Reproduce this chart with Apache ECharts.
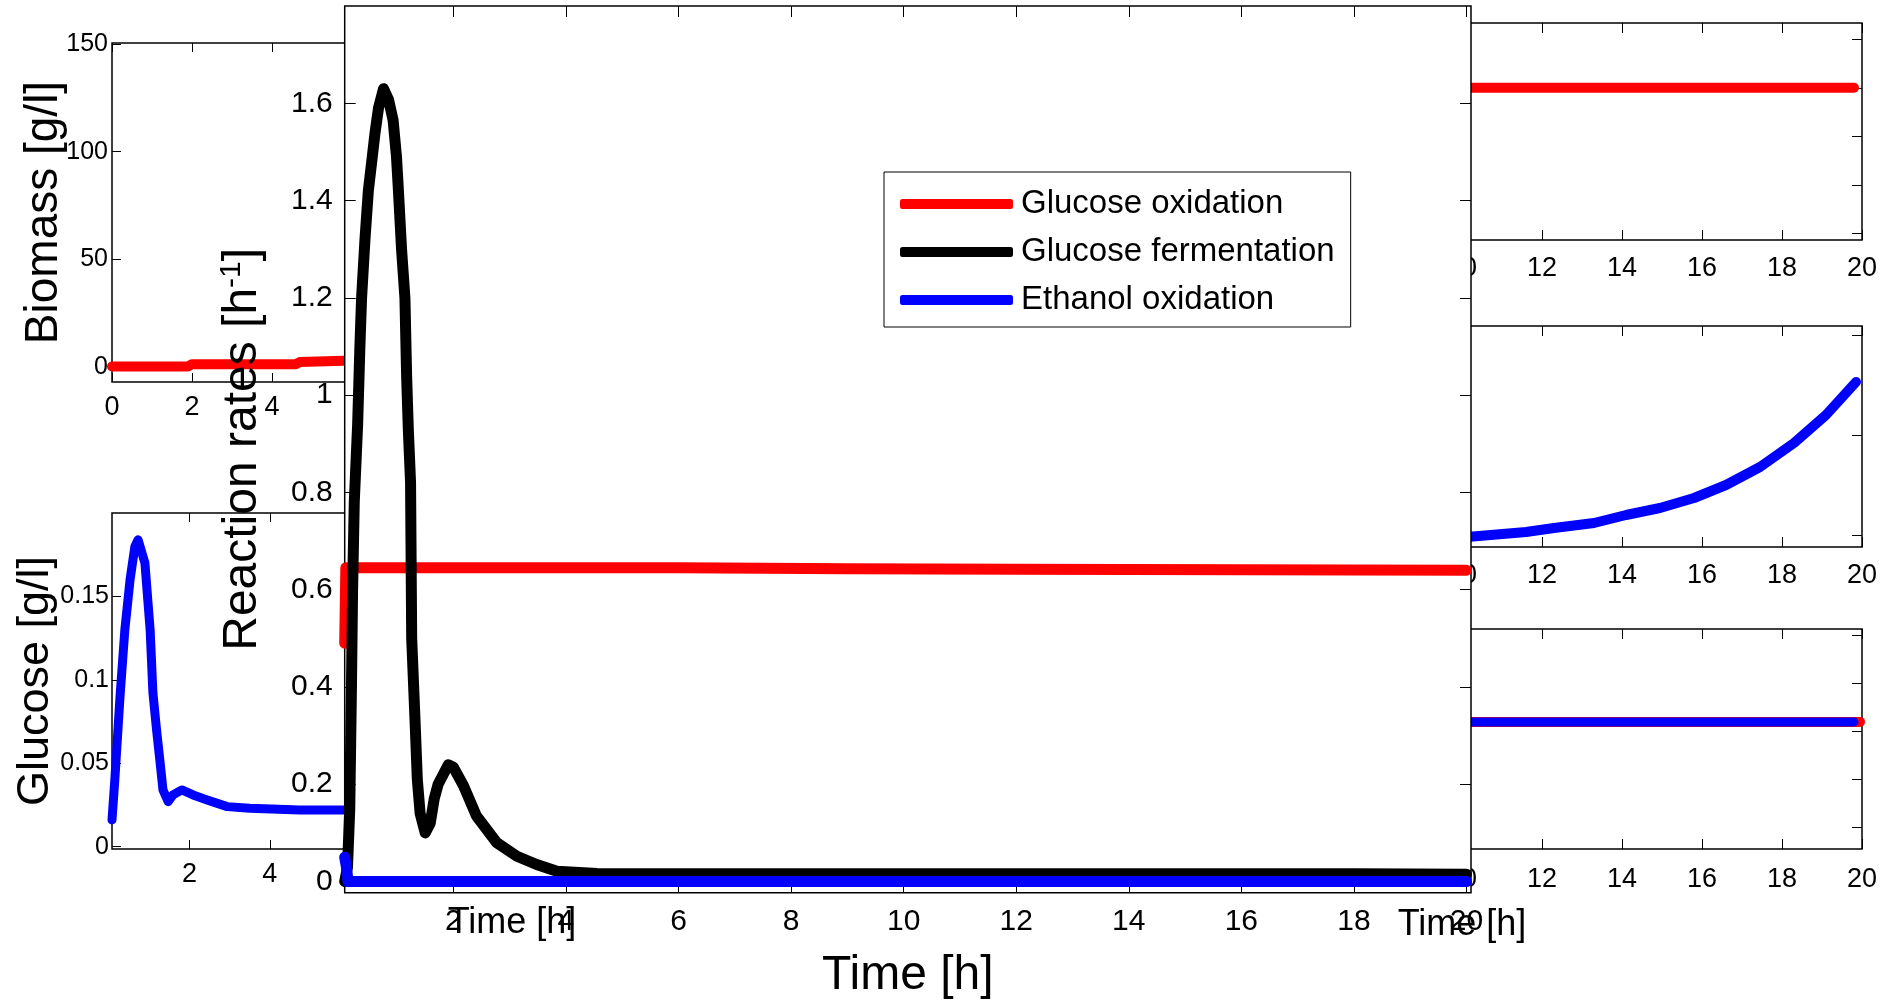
<!DOCTYPE html>
<html>
<head>
<meta charset="utf-8">
<title>Reaction rates</title>
<script src="https://cdn.jsdelivr.net/npm/echarts@6.0.0/dist/echarts.min.js"></script>
<style>
  html, body { margin: 0; padding: 0; background: #fff; }
  .chart__layer { position: absolute; left: 0; top: 0; width: 1899px; height: 1000px; }
</style>
</head>
<body>
  <div class="chart__layer" id="sub_show"></div>
  <div class="chart__layer" id="main_show"></div>
<script>
// values, time in h
var oxidationTime = [0.07, 0.09, 2, 6, 9, 12, 16, 20]
var oxidationRate = [0.49, 0.645, 0.645, 0.645, 0.643, 0.642, 0.641, 0.64]

var fermentationTime = [0.07, 0.12, 0.16, 0.19, 0.21, 0.24, 0.3, 0.34, 0.37, 0.43, 0.49, 0.55, 0.61, 0.67, 0.76, 0.85, 0.93, 0.99, 1.02, 1.08, 1.14, 1.17, 1.2, 1.24, 1.25, 1.26, 1.32, 1.36, 1.41, 1.5, 1.59, 1.66, 1.73, 1.91, 2.0, 2.18, 2.41, 2.77, 3.13, 3.48, 3.84, 4.55, 6, 8, 10, 12, 14, 16, 18, 20]
var fermentationRate = [0, 0.03, 0.15, 0.4, 0.6, 0.78, 0.94, 1.1, 1.2, 1.32, 1.42, 1.48, 1.54, 1.59, 1.63, 1.607, 1.565, 1.49, 1.43, 1.3, 1.2, 1.04, 0.93, 0.82, 0.66, 0.5, 0.33, 0.21, 0.14, 0.1, 0.12, 0.17, 0.2, 0.24, 0.235, 0.197, 0.135, 0.08, 0.052, 0.035, 0.021, 0.0165, 0.016, 0.016, 0.016, 0.016, 0.016, 0.016, 0.016, 0.015]

var ethanolTime = [0.07, 0.1, 0.13, 1, 5, 10, 15, 20]
var ethanolRate = [0.05, 0.03, 0, 0, 0, 0, 0, 0]

var biomassTime = [0, 1.9, 2, 4.6, 4.7, 6, 8, 10, 12, 14, 16, 18, 20]
var biomass = [0.2, 0.2, 1.3, 1.3, 2.3, 3, 5, 9, 16, 28, 47, 80, 135]

var glucoseTime = [0.07, 0.14, 0.27, 0.39, 0.52, 0.64, 0.72, 0.89, 1.02, 1.09, 1.18, 1.27, 1.34, 1.47, 1.59, 1.81, 2.09, 2.44, 2.94, 3.5, 4.75, 5.87, 8, 12, 16, 20]
var glucose = [0.016, 0.04, 0.09, 0.13, 0.16, 0.18, 0.184, 0.17, 0.13, 0.092, 0.07, 0.05, 0.034, 0.027, 0.031, 0.034, 0.031, 0.028, 0.024, 0.023, 0.022, 0.022, 0.022, 0.021, 0.021, 0.02]

// right column panels (their y labels sit under the big axes)
var upperRightTime = [0, 5, 10, 15, 19.8]
var upperRightLevel = [3, 3, 3, 3, 3]
var middleRightTime = [0, 4, 8, 10.2, 11.6, 12.3, 13.3, 14.1, 14.95, 15.8, 16.6, 17.45, 18.3, 19.1, 19.85]
var middleRightLevel = [-0.02, -0.02, -0.02, -0.017, 0.03, 0.07, 0.12, 0.2, 0.27, 0.37, 0.5, 0.68, 0.92, 1.2, 1.53]
var lowerRightRedTime = [0, 5, 10, 15, 19.95]
var lowerRightRed = [2.19, 2.19, 2.19, 2.19, 2.19]
var lowerRightBlueTime = [0, 5, 10, 15, 19.8]
var lowerRightBlue = [2.19, 2.19, 2.19, 2.19, 2.19]

// ticks
var hourTicks = [2, 4, 6, 8, 10, 12, 14, 16, 18, 20]
var hourTicksFromZero = [0, 2, 4, 6, 8, 10, 12, 14, 16, 18, 20]
var rateTicks = [0, 0.2, 0.4, 0.6, 0.8, 1, 1.2, 1.4, 1.6]
var biomassTicks = [0, 50, 100, 150]
var glucoseTicks = [0, 0.05, 0.1, 0.15]
var upperRightTicks = [0, 1, 2, 3, 4]
var middleRightTicks = [0, 1, 2]
var lowerRightTicks = [0, 1, 2, 3, 4]

var FONT = 'Liberation Sans, Arial, Helvetica, sans-serif'

function pairs (xs, ys) {
  return xs.map(function (x, i) { return [x, ys[i]] })
}

function boxGrid (left, top, width, height) {
  return {
    left: left,
    top: top,
    width: width,
    height: height,
    containLabel: false,
    outerBoundsMode: 'none',
    show: true,
    backgroundColor: '#fff',
    borderColor: '#000',
    borderWidth: 1.5
  }
}

// one MATLAB style box: labels bottom/left, inside ticks on all four sides
function boxAxes (c) {
  var tickStyle = { color: '#000', width: 1 }
  var xBase = {
    type: 'value',
    gridIndex: c.grid,
    min: c.xMin,
    max: c.xMax,
    axisLine: { show: false, onZero: false },
    splitLine: { show: false },
    axisTick: { inside: true, length: c.tick, customValues: c.xTicks, lineStyle: tickStyle }
  }
  var yBase = {
    type: 'value',
    gridIndex: c.grid,
    min: c.yMin,
    max: c.yMax,
    axisLine: { show: false, onZero: false },
    splitLine: { show: false },
    axisTick: { inside: true, length: c.tick, customValues: c.yTicks, lineStyle: tickStyle }
  }
  var xBottom = Object.assign({}, xBase, {
    position: 'bottom',
    axisLabel: { show: c.xLabels, customValues: c.xTicks, margin: c.xMargin, color: '#000', fontSize: c.xFont || c.font, fontFamily: FONT },
    name: c.xName || '',
    nameLocation: 'middle',
    nameGap: c.xNameGap || 0,
    nameMoveOverlap: false,
    nameTextStyle: { color: '#000', fontSize: c.xNameSize || 36, fontFamily: FONT }
  })
  var xTop = Object.assign({}, xBase, { position: 'top', axisLabel: { show: false } })
  var yLeft = Object.assign({}, yBase, {
    position: 'left',
    axisLabel: { show: c.yLabels, customValues: c.yTicks, margin: c.yMargin, color: '#000', fontSize: c.yFont || c.font, fontFamily: FONT },
    name: c.yName || '',
    nameLocation: 'middle',
    nameGap: c.yNameGap || 0,
    nameMoveOverlap: false,
    nameTextStyle: c.yNameStyle || { color: '#000', fontSize: c.yNameSize || 44, fontFamily: FONT }
  })
  var yRight = Object.assign({}, yBase, { position: 'right', axisLabel: { show: false } })
  return { x: [xBottom, xTop], y: [yLeft, yRight] }
}

function lineSeries (name, axisIdx, data, color, width) {
  return {
    name: name,
    type: 'line',
    xAxisIndex: axisIdx,
    yAxisIndex: axisIdx,
    data: data,
    color: color,
    showSymbol: false,
    symbol: 'none',
    clip: true,
    lineStyle: { color: color, width: width, cap: 'round', join: 'round' }
  }
}

function setSubCharts () {
  var chartDom = document.getElementById('sub_show')
  var myChart = echarts.init(chartDom, null, { renderer: 'canvas' })
  var option

  var panels = [
    boxAxes({ grid: 0, xMin: 0, xMax: 20, xTicks: hourTicksFromZero, xLabels: true, xMargin: 12, yMin: -7, yMax: 150.5, yTicks: biomassTicks, yLabels: true, yMargin: 4, tick: 9, xFont: 27, yFont: 25, yName: 'Biomass [g/l]', yNameGap: 45, yNameSize: 46 }),
    boxAxes({ grid: 1, xMin: 0.07, xMax: 20, xTicks: hourTicks, xLabels: true, xMargin: 12, yMin: -0.0014, yMax: 0.2, yTicks: glucoseTicks, yLabels: true, yMargin: 3, tick: 9, xFont: 27, yFont: 25, xName: 'Time [h]', xNameGap: 56, yName: 'Glucose [g/l]', yNameGap: 54, yNameSize: 45 }),
    boxAxes({ grid: 2, xMin: 0, xMax: 20, xTicks: hourTicksFromZero, xLabels: true, xMargin: 15, yMin: -0.138, yMax: 4.336, yTicks: upperRightTicks, yLabels: false, tick: 10, font: 27 }),
    boxAxes({ grid: 3, xMin: 0, xMax: 20, xTicks: hourTicksFromZero, xLabels: true, xMargin: 15, yMin: -0.12, yMax: 2.09, yTicks: middleRightTicks, yLabels: false, tick: 10, font: 27 }),
    boxAxes({ grid: 4, xMin: 0, xMax: 20, xTicks: hourTicksFromZero, xLabels: true, xMargin: 17, yMin: -0.458, yMax: 4.125, yTicks: lowerRightTicks, yLabels: false, tick: 10, font: 27, xName: 'Time [h]', xNameGap: 58 })
  ]
  var xAxis = []
  var yAxis = []
  panels.forEach(function (p) {
    xAxis.push(p.x[0], p.x[1])
    yAxis.push(p.y[0], p.y[1])
  })

  option = {
    backgroundColor: '#fff',
    animation: false,
    grid: [
      boxGrid(112, 43, 800, 339),
      boxGrid(112, 513, 800, 336),
      boxGrid(1062, 23, 800, 217),
      boxGrid(1062, 326, 800, 221),
      boxGrid(1062, 629, 800, 220)
    ],
    xAxis: xAxis,
    yAxis: yAxis,
    series: [
      lineSeries('Biomass', 0, pairs(biomassTime, biomass), '#ff0000', 10),
      lineSeries('Glucose', 2, pairs(glucoseTime, glucose), '#0000ff', 9),
      lineSeries('Upper right', 4, pairs(upperRightTime, upperRightLevel), '#ff0000', 10),
      lineSeries('Middle right', 6, pairs(middleRightTime, middleRightLevel), '#0000ff', 10),
      lineSeries('Lower right red', 8, pairs(lowerRightRedTime, lowerRightRed), '#ff0000', 10),
      lineSeries('Lower right blue', 8, pairs(lowerRightBlueTime, lowerRightBlue), '#0000ff', 9)
    ]
  }

  option && myChart.setOption(option)
}

function setMainChart () {
  var chartDom = document.getElementById('main_show')
  var myChart = echarts.init(chartDom, null, { renderer: 'canvas' })
  var option

  var box = boxAxes({
    grid: 0,
    xMin: 0.07,
    xMax: 20.08,
    xTicks: hourTicks,
    xLabels: true,
    xMargin: 14,
    yMin: -0.023,
    yMax: 1.8,
    yTicks: rateTicks,
    yLabels: true,
    yMargin: 12,
    tick: 11,
    font: 30,
    xName: 'Time [h]',
    xNameGap: 59,
    xNameSize: 48,
    yName: '{n|Reaction rates [h}{s|-1}{n|]}',
    yNameGap: 76,
    yNameStyle: {
      color: '#000',
      fontSize: 48,
      fontFamily: FONT,
      rich: {
        n: { fontSize: 48, fontFamily: FONT, color: '#000' },
        s: { fontSize: 30, fontFamily: FONT, color: '#000', padding: [0, 0, 22, 0] }
      }
    }
  })

  option = {
    backgroundColor: 'transparent',
    animation: false,
    grid: boxGrid(344.7, 6, 1126.3, 886.7),
    legend: {
      orient: 'vertical',
      left: 884,
      top: 172,
      backgroundColor: '#fff',
      borderColor: '#000',
      borderWidth: 1,
      borderRadius: 0,
      padding: [13, 16, 8, 16],
      itemWidth: 113,
      itemHeight: 10,
      itemGap: 10,
      icon: 'roundRect',
      itemStyle: { borderWidth: 0 },
      selectedMode: false,
      textStyle: { color: '#000', fontSize: 33, fontFamily: FONT, lineHeight: 38, padding: [0, 0, 0, 3] },
      data: ['Glucose oxidation', 'Glucose fermentation', 'Ethanol oxidation']
    },
    xAxis: box.x,
    yAxis: box.y,
    series: [
      lineSeries('Glucose oxidation', 0, pairs(oxidationTime, oxidationRate), '#ff0000', 11),
      lineSeries('Glucose fermentation', 0, pairs(fermentationTime, fermentationRate), '#000000', 11),
      lineSeries('Ethanol oxidation', 0, pairs(ethanolTime, ethanolRate), '#0000ff', 11)
    ]
  }

  option && myChart.setOption(option)
}

setSubCharts()
setMainChart()
</script>
</body>
</html>
